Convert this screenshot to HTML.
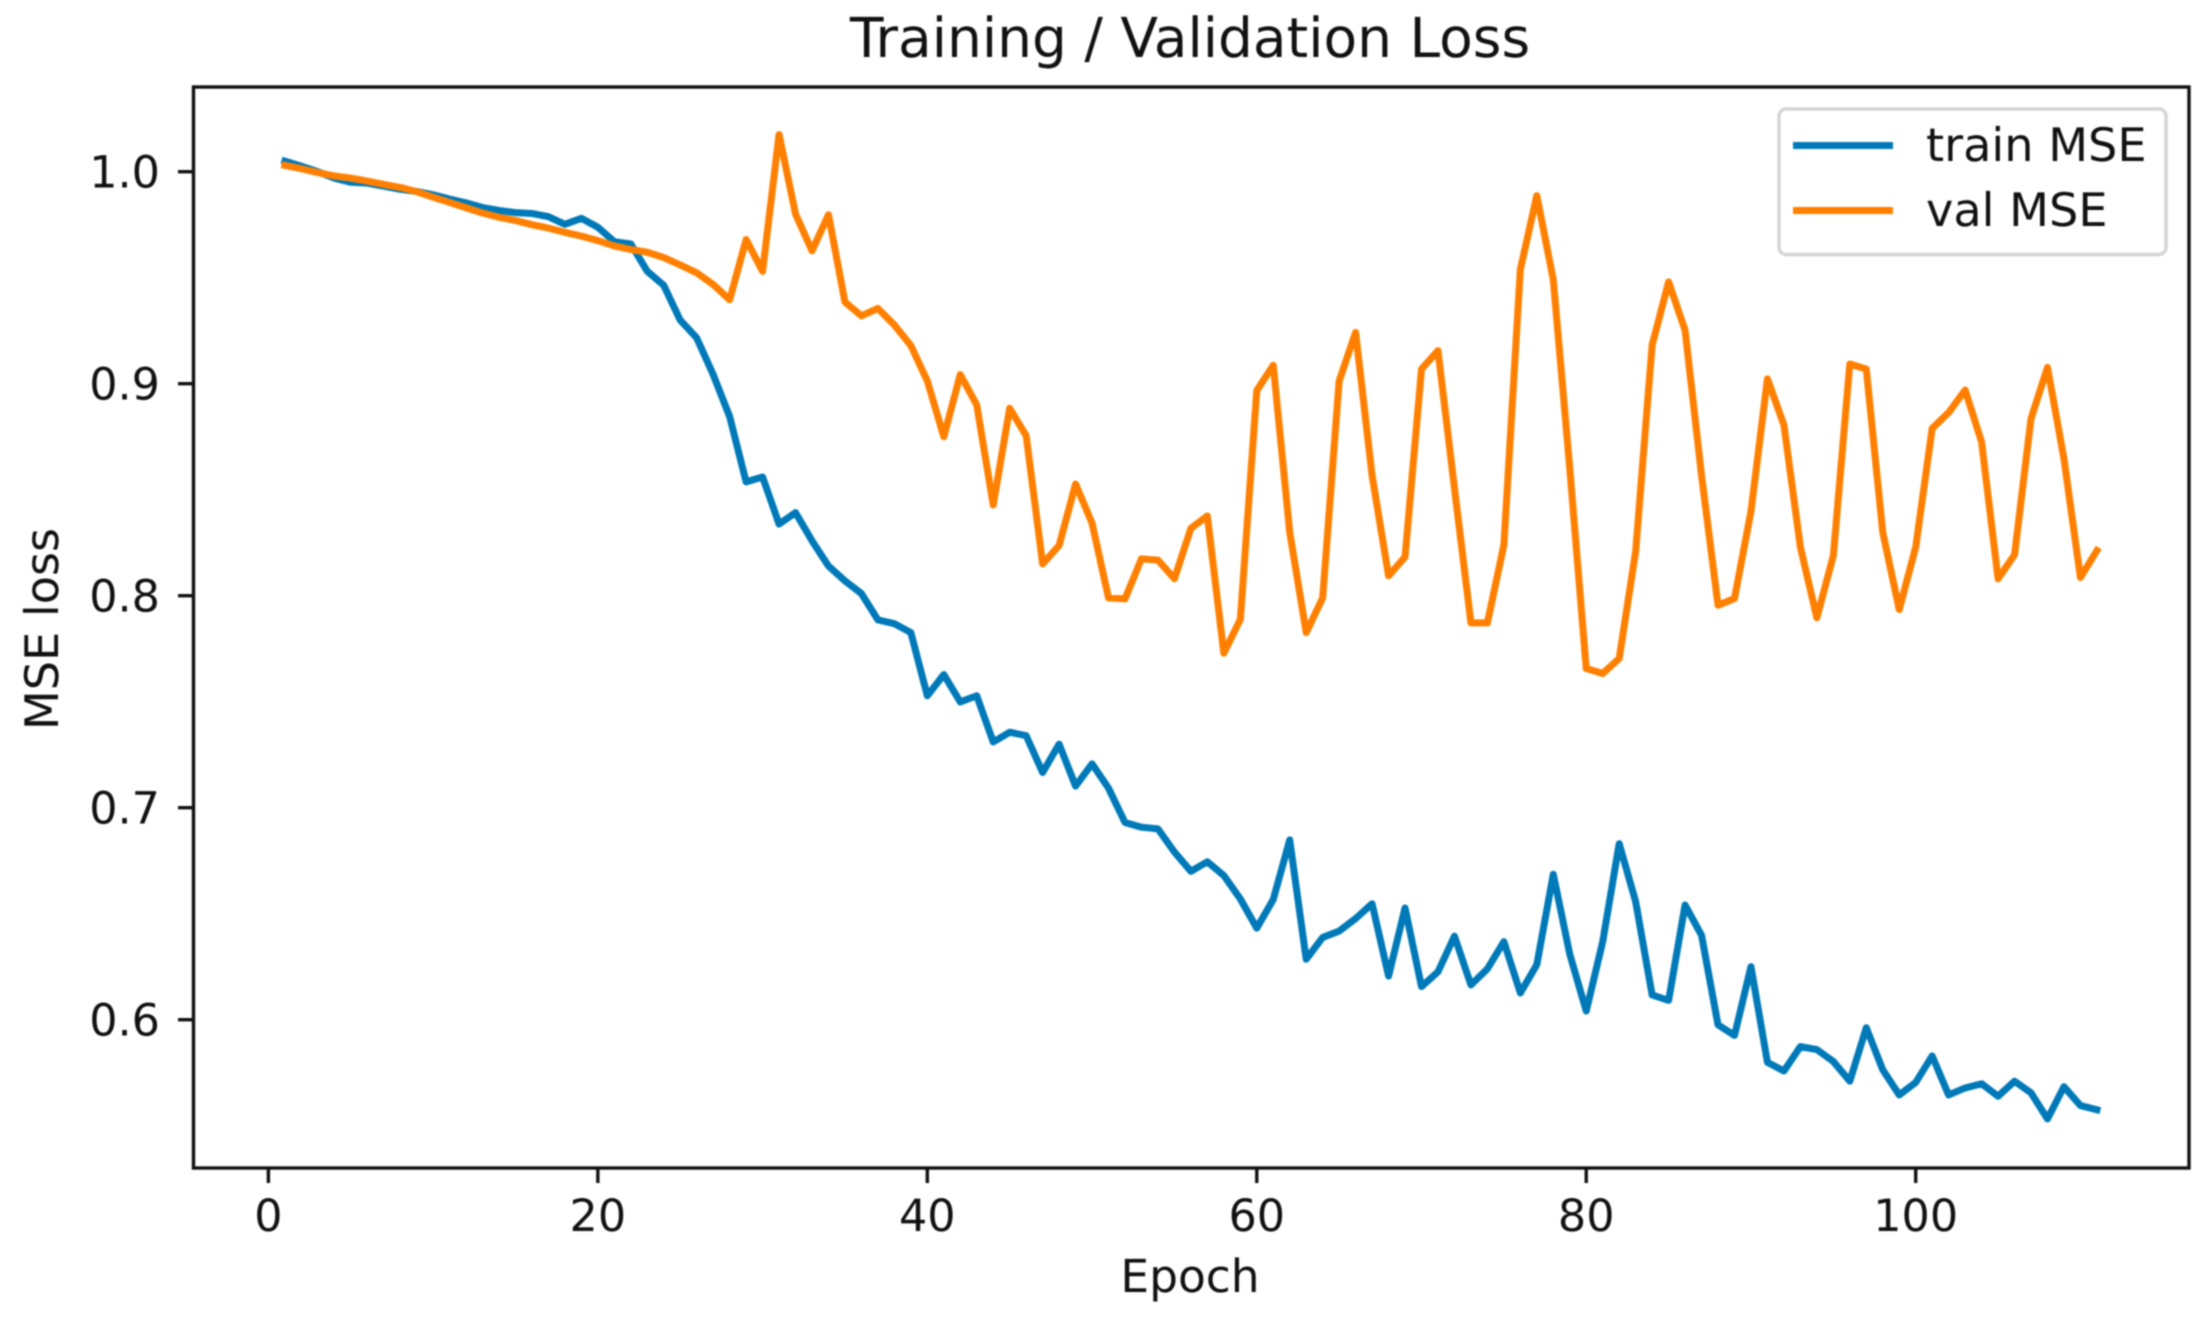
<!DOCTYPE html>
<html lang="en">
<head>
<meta charset="utf-8">
<title>Training / Validation Loss</title>
<style>
html,body{margin:0;padding:0;background:#fff;}
body{width:2206px;height:1319px;overflow:hidden;}
svg{display:block;filter:blur(0.7px);}
text{font-family:"DejaVu Sans","Liberation Sans",sans-serif;fill:#111;text-rendering:geometricPrecision;}
</style>
</head>
<body>
<svg id="chart" xmlns="http://www.w3.org/2000/svg" width="2206" height="1319" viewBox="0 0 2206 1319">
  <rect x="0" y="0" width="2206" height="1319" fill="#ffffff"/>
  <text x="1190" y="57" font-size="55" text-anchor="middle">Training / Validation Loss</text>
  <g id="series"></g>
  <g id="ticks"></g>
  <rect x="193.5" y="87" width="1995.5" height="1081" fill="none" stroke="#111" stroke-width="3.4"/>
  <text x="1190" y="1292" font-size="45.5" text-anchor="middle">Epoch</text>
  <text x="0" y="0" font-size="46.2" text-anchor="middle" transform="translate(58 629) rotate(-90)">MSE loss</text>
  <g>
    <rect x="1779" y="109" width="387" height="145.5" rx="7" fill="#ffffff" fill-opacity="0.8" stroke="#d4d4d4" stroke-width="3.4"/>
    <line x1="1793" y1="145.5" x2="1893" y2="145.5" stroke="#0079b8" stroke-width="7"/>
    <text x="1926" y="161" font-size="46.2">train MSE</text>
    <line x1="1793" y1="210.5" x2="1893" y2="210.5" stroke="#ff8000" stroke-width="7"/>
    <text x="1926" y="226" font-size="46.2">val MSE</text>
  </g>
</svg>
<script>
const trainMse = [1.005,1.0026,1.000,0.997,0.995,0.9946,0.9932,0.9917,0.9907,0.9891,0.9871,0.9853,0.9831,0.9817,0.9807,0.9803,0.9788,0.9752,0.978,0.9738,0.967,0.9659,0.953,0.9464,0.93,0.9216,0.9043,0.8845,0.8537,0.856,0.8338,0.8392,0.8259,0.814,0.807,0.801,0.7886,0.7868,0.7826,0.7528,0.7628,0.7499,0.7528,0.731,0.7356,0.734,0.7166,0.73,0.7102,0.7207,0.7092,0.693,0.6908,0.69,0.6791,0.67,0.6745,0.668,0.657,0.6432,0.6567,0.6848,0.6285,0.6388,0.6418,0.6477,0.6547,0.6206,0.6527,0.6156,0.6226,0.6394,0.6164,0.624,0.6368,0.6126,0.626,0.6686,0.6309,0.6041,0.6368,0.683,0.6557,0.6117,0.6091,0.6541,0.6398,0.5976,0.5926,0.625,0.5799,0.5758,0.5873,0.5859,0.5803,0.571,0.5962,0.5764,0.5645,0.5704,0.5829,0.5645,0.5678,0.5698,0.5639,0.571,0.5655,0.5532,0.5684,0.5595,0.5575];
const valMse = [1.003,1.0014,0.9996,0.998,0.997,0.9956,0.994,0.9926,0.9906,0.988,0.9855,0.983,0.9805,0.9785,0.977,0.975,0.9734,0.9714,0.9696,0.9675,0.965,0.9633,0.962,0.9595,0.956,0.9523,0.9468,0.9396,0.968,0.953,1.0175,0.98,0.9627,0.9797,0.9385,0.932,0.9355,0.9277,0.918,0.9013,0.875,0.9043,0.89,0.8428,0.8884,0.8755,0.815,0.8237,0.8527,0.8342,0.799,0.7985,0.8174,0.8168,0.808,0.8318,0.8376,0.7729,0.7888,0.8968,0.9087,0.8299,0.7826,0.799,0.9013,0.9242,0.8567,0.8094,0.8183,0.9069,0.9156,0.8507,0.7872,0.7872,0.8239,0.9539,0.9887,0.949,0.86,0.7657,0.7633,0.7704,0.8209,0.9182,0.948,0.9252,0.8567,0.7955,0.7987,0.8398,0.9023,0.8805,0.8229,0.7896,0.8189,0.9093,0.9069,0.8299,0.7935,0.8229,0.8789,0.8864,0.897,0.8725,0.808,0.8193,0.8835,0.9077,0.8646,0.8086,0.8213];
const xTickValues = [0,20,40,60,80,100];
const xTickLabels = ["0","20","40","60","80","100"];
const yTickValues = [1.0,0.9,0.8,0.7,0.6];
const yTickLabels = ["1.0","0.9","0.8","0.7","0.6"];

const SVG_NS = "http://www.w3.org/2000/svg";
function xScale(epoch){ return 268.4 + epoch * 16.473; }
function yScale(value){ return 171.7 + (1 - value) * 2120; }
function make(tag, attrs, parent){
  const el = document.createElementNS(SVG_NS, tag);
  for (const k in attrs) el.setAttribute(k, attrs[k]);
  parent.appendChild(el);
  return el;
}
function linePath(values){
  return values.map(function(v, i){
    return (i === 0 ? "M" : "L") + xScale(i + 1).toFixed(2) + " " + yScale(v).toFixed(2);
  }).join(" ");
}
const seriesGroup = document.getElementById("series");
const tickGroup = document.getElementById("ticks");

const trainLine = make("path", {d: linePath(trainMse), fill: "none", stroke: "#0079b8", "stroke-width": 7, "stroke-linejoin": "round", "stroke-linecap": "square"}, seriesGroup);


const valLine = make("path", {d: linePath(valMse), fill: "none", stroke: "#ff8000", "stroke-width": 7, "stroke-linejoin": "round", "stroke-linecap": "square"}, seriesGroup);



xTickValues.forEach(function(v, i){
  const x = xScale(v);
  const mark = make("line", {x1: x, x2: x, y1: 1168, y2: 1183, stroke: "#111", "stroke-width": 3.4}, tickGroup);
  
  
  const label = make("text", {x: x, y: 1231, "font-size": 44.5, "text-anchor": "middle"}, tickGroup);
  label.textContent = xTickLabels[i];
  
  
});
yTickValues.forEach(function(v, i){
  const y = yScale(v);
  const mark = make("line", {x1: 178, x2: 193.5, y1: y, y2: y, stroke: "#111", "stroke-width": 3.4}, tickGroup);
  
  
  const label = make("text", {x: 160, y: y + 16, "font-size": 44.5, "text-anchor": "end"}, tickGroup);
  label.textContent = yTickLabels[i];
  
  
});
</script>
</body>
</html>
